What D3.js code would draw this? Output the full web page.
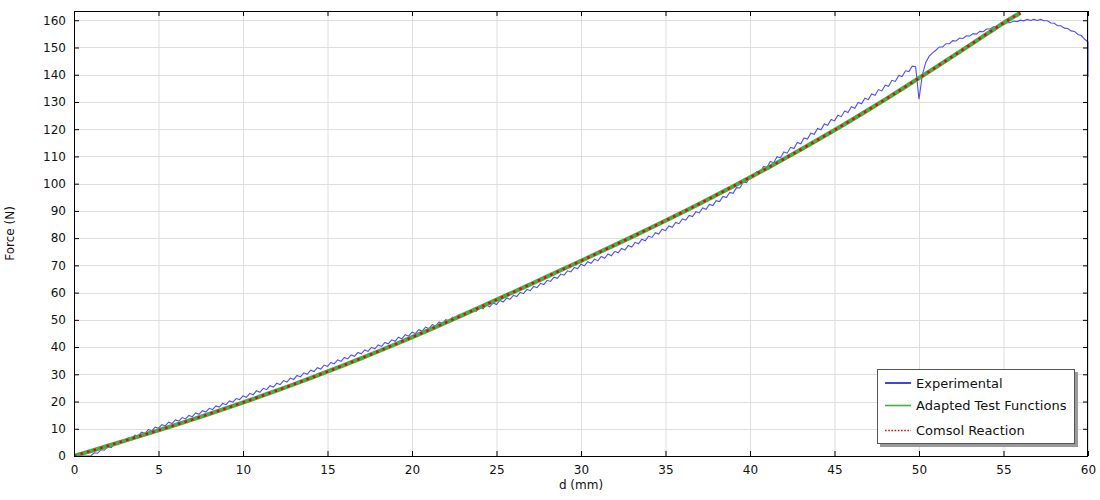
<!DOCTYPE html>
<html>
<head>
<meta charset="utf-8">
<script src="https://cdn.jsdelivr.net/npm/d3@7"></script>
<style>
html,body{margin:0;padding:0;background:#fff;}
svg{display:block;font-family:"DejaVu Sans",sans-serif;}
</style>
</head>
<body>
<svg id="chart" width="1100" height="500"></svg>
<script>
// ---- data ----
const xTicks = [0,5,10,15,20,25,30,35,40,45,50,55,60];
const yTicks = [0,10,20,30,40,50,60,70,80,90,100,110,120,130,140,150,160];
const seriesNames = ["Experimental","Adapted Test Functions","Comsol Reaction"];

const modelD = [0,1,2,3,4,5,6,7,8,9,10,11,12,13,14,15,16,17,18,19,20,21,22,23,24,25,26,27,28,29,30,31,32,33,34,35,36,37,38,39,40,41,42,43,44,45,46,47,48,49,50,51,52,53,54,55,56];
const modelF = [0,1.85,3.72,5.61,7.52,9.45,11.41,13.41,15.45,17.53,19.65,21.82,24.04,26.31,28.63,31.0,33.42,35.89,38.41,40.98,43.6,46.28,49.0,51.76,54.55,57.36,60.19,63.04,65.9,68.77,71.65,74.55,77.47,80.42,83.4,86.42,89.49,92.62,95.8,99.03,102.32,105.65,109.05,112.52,116.06,119.67,123.35,127.1,130.92,134.81,138.77,142.77,146.8,150.85,154.92,159.01,162.7];
const comsolD = modelD;
const comsolF = modelF;

const expD = [
0,0.2,0.4,0.6,0.8, 1,1.2,1.4,1.6,1.8, 2,2.2,2.4,2.6,2.8, 3,3.2,3.4,3.6,3.8, 4,4.2,4.4,4.6,4.8,
5,5.2,5.4,5.6,5.8, 6,6.2,6.4,6.6,6.8, 7,7.2,7.4,7.6,7.8, 8,8.2,8.4,8.6,8.8, 9,9.2,9.4,9.6,9.8,
10,10.2,10.4,10.6,10.8, 11,11.2,11.4,11.6,11.8, 12,12.2,12.4,12.6,12.8, 13,13.2,13.4,13.6,13.8, 14,14.2,14.4,14.6,14.8,
15,15.2,15.4,15.6,15.8, 16,16.2,16.4,16.6,16.8, 17,17.2,17.4,17.6,17.8, 18,18.2,18.4,18.6,18.8, 19,19.2,19.4,19.6,19.8,
20,20.2,20.4,20.6,20.8, 21,21.2,21.4,21.6,21.8, 22,22.2,22.4,22.6,22.8, 23,23.2,23.4,23.6,23.8, 24,24.2,24.4,24.6,24.8,
25,25.2,25.4,25.6,25.8, 26,26.2,26.4,26.6,26.8, 27,27.2,27.4,27.6,27.8, 28,28.2,28.4,28.6,28.8, 29,29.2,29.4,29.6,29.8,
30,30.2,30.4,30.6,30.8, 31,31.2,31.4,31.6,31.8, 32,32.2,32.4,32.6,32.8, 33,33.2,33.4,33.6,33.8, 34,34.2,34.4,34.6,34.8,
35,35.2,35.4,35.6,35.8, 36,36.2,36.4,36.6,36.8, 37,37.2,37.4,37.6,37.8, 38,38.2,38.4,38.6,38.8, 39,39.2,39.4,39.6,39.8,
40,40.2,40.4,40.6,40.8, 41,41.2,41.4,41.6,41.8, 42,42.2,42.4,42.6,42.8, 43,43.2,43.4,43.6,43.8, 44,44.2,44.4,44.6,44.8,
45,45.2,45.4,45.6,45.8, 46,46.2,46.4,46.6,46.8, 47,47.2,47.4,47.6,47.8, 48,48.2,48.4,48.6,48.8, 49,49.2,49.4,49.6,49.8,
50,50.2,50.4,50.6,50.8, 51,51.2,51.4,51.6,51.8, 52,52.2,52.4,52.6,52.8, 53,53.2,53.4,53.6,53.8, 54,54.2,54.4,54.6,54.8,
55,55.2,55.4,55.6,55.8, 56,56.2,56.4,56.6,56.8, 57,57.2,57.4,57.6,57.8, 58,58.2,58.4,58.6,58.8, 59,59.2,59.4,59.6,59.8,
60,60];
const expF = [
0,0,0,0,0, 0.1,1.2,1.0,2.3,2.1, 3.4,3.1,4.4,4.2,5.5, 5.15,6.6,6.25,7.65,7.3, 8.75,8.3,9.7,9.25,10.6,
10.2,11.5,11.05,12.4,11.9, 13.25,12.8,14.1,13.6,14.9, 14.45,15.8,15.3,16.65,16.15, 17.5,17.05,18.4,17.95,19.3, 18.85,20.2,19.75,21.1,20.7,
22.1,21.55,23.0,22.5,23.95, 23.4,24.85,24.35,25.8,25.3, 26.75,26.2,27.7,27.15,28.6, 28.1,29.6,29.05,30.55,30.0, 31.5,31.0,32.45,31.95,33.4,
32.9,34.35,33.8,35.3,34.75, 36.2,35.65,37.1,36.6,38.05, 37.5,38.95,38.4,39.9,39.35, 40.8,40.25,41.7,41.2,42.65, 42.1,43.6,43.05,44.55,44.0,
45.5,44.95,46.4,45.9,47.35, 46.8,48.25,47.7,49.2,48.65, 50.1,49.55,51.0,50.5,51.95, 51.4,52.85,52.3,53.7,53.15, 54.6,54.0,55.4,54.8,56.2,
55.6,57.1,56.55,58.05,57.5, 59.0,58.55,60.1,59.6,61.15, 60.7,62.25,61.8,63.4,62.95, 64.5,64.1,65.65,65.25,66.8, 66.4,68.0,67.6,69.2,68.8,
70.45,69.8,71.35,70.75,72.3, 71.65,73.25,72.6,74.2,73.55, 75.15,74.6,76.25,75.65,77.3, 76.75,78.45,77.9,79.6,79.05, 80.75,80.25,82.0,81.5,83.25,
82.75,84.5,84.0,85.75,85.3, 87.05,86.6,88.35,87.9,89.7, 89.25,91.05,90.6,92.4,91.95, 93.75,93.4,95.3,94.9,96.8, 96.45,98.55,98.4,100.5,100.35,
102.55,102.2,104.45,104.05,106.3, 105.95,108.15,107.7,109.9,109.45, 111.65,111.2,113.35,112.9,115.1, 114.65,116.8,116.35,118.55,118.1, 120.25,119.75,121.9,121.4,123.55,
123.05,125.15,124.6,126.7,126.15, 128.25,127.7,129.8,129.3,131.35, 130.85,132.95,132.45,134.55,134.05, 136.15,135.75,137.95,137.55,139.75, 139.35,141.45,141.15,143.15,142.9,
131.0,140.0,144.5,146.8,148.0, 149.0,150.2,150.2,151.4,151.4, 152.5,152.4,153.5,153.3,154.3, 154.2,155.1,154.9,155.9,155.8, 156.8,156.8,157.6,157.6,158.4,
158.4,159.2,159.1,159.7,159.5, 160.05,159.8,160.3,159.9,160.3, 159.9,160.3,159.8,159.8,159.0, 158.9,158.0,158.0,157.1,157.0, 156.1,155.9,154.8,154.4,153.1,
152.0,139.2];

// ---- layout ----
const svg = d3.select("#chart");
const L = 74, R = 1088, T = 11, B = 456;
const x = d3.scaleLinear().domain([0,60]).range([L,R]);
const y = d3.scaleLinear().domain([0,163.4]).range([B,T]);

svg.append("defs").append("clipPath").attr("id","clip")
  .append("rect").attr("x",L).attr("y",T).attr("width",R-L+1).attr("height",B-T);

// grid
const grid = svg.append("g");
grid.selectAll(".gx").data(xTicks).enter().append("line")
  .attr("x1",d=>x(d)+0.5).attr("x2",d=>x(d)+0.5).attr("y1",T).attr("y2",B)
  .attr("stroke","#dedede").attr("stroke-width",1);
grid.selectAll(".gy").data(yTicks).enter().append("line")
  .attr("y1",d=>Math.round(y(d))+0.5).attr("y2",d=>Math.round(y(d))+0.5).attr("x1",L).attr("x2",R)
  .attr("stroke","#dedede").attr("stroke-width",1);

// series
const plot = svg.append("g").attr("clip-path","url(#clip)");
const expLine = d3.line().x((d,i)=>x(expD[i])).y(d=>y(d));
plot.append("path").datum(expF).attr("d",expLine)
  .attr("fill","none").attr("stroke","#3a3aff").attr("stroke-width",1.1).attr("stroke-opacity",0.9);

const modelLine = d3.line().curve(d3.curveMonotoneX).x((d,i)=>x(modelD[i])).y(d=>y(d));
plot.append("path").datum(modelF).attr("d",modelLine)
  .attr("fill","none").attr("stroke","#3db345").attr("stroke-width",4.2);
const comsolLine = d3.line().curve(d3.curveMonotoneX).x((d,i)=>x(comsolD[i])).y(d=>y(d));
plot.append("path").datum(comsolF).attr("d",comsolLine)
  .attr("fill","none").attr("stroke","#ff0000").attr("stroke-width",2.6)
  .attr("stroke-dasharray","2.6,4.2");

// frame
svg.append("rect").attr("x",L+0.5).attr("y",T+0.5).attr("width",R-L-1).attr("height",B-T)
  .attr("fill","none").attr("stroke","#000").attr("stroke-width",1);

// axes (ticks inward)
const axB = svg.append("g").attr("transform",`translate(0,${B})`)
  .call(d3.axisBottom(x).tickValues(xTicks).tickSize(-5).tickPadding(9).tickFormat(d3.format("d")));
const axT = svg.append("g").attr("transform",`translate(0,${T})`)
  .call(d3.axisTop(x).tickValues(xTicks).tickSize(-5).tickFormat(""));
const axL = svg.append("g").attr("transform",`translate(${L},0)`)
  .call(d3.axisLeft(y).tickValues(yTicks).tickSize(-5).tickPadding(8).tickFormat(d3.format("d")));
const axR = svg.append("g").attr("transform",`translate(${R},0)`)
  .call(d3.axisRight(y).tickValues(yTicks).tickSize(-5).tickFormat(""));
[axB,axT,axL,axR].forEach(a=>{
  a.select(".domain").remove();
  a.selectAll("line").attr("stroke","#000");
  a.selectAll("text").attr("fill","#111").style("font-size","12px").style("font-family","DejaVu Sans");
});

// axis titles
svg.append("text").attr("x",(L+R)/2).attr("y",489).attr("text-anchor","middle")
  .style("font-size","12px").attr("fill","#111").text("d (mm)");
svg.append("text").attr("transform",`translate(14,${(T+B)/2}) rotate(-90)`).attr("text-anchor","middle")
  .style("font-size","12px").attr("fill","#111").text("Force (N)");

// legend
const lg = svg.append("g");
lg.append("rect").attr("x",880).attr("y",372).attr("width",198).attr("height",75).attr("fill","#9a9a9a");
lg.append("rect").attr("x",877.5).attr("y",369.5).attr("width",197).attr("height",74)
  .attr("fill","#fff").attr("stroke","#555").attr("stroke-width",1);
const items = [
  {name:seriesNames[0], color:"#1515e0", w:1.6, dash:null, yy:383},
  {name:seriesNames[1], color:"#40b040", w:1.6, dash:null, yy:405.5},
  {name:seriesNames[2], color:"#ff0000", w:1.6, dash:"1.6,1.6", yy:430.5}
];
items.forEach(it=>{
  const ln = lg.append("line").attr("x1",885).attr("x2",911).attr("y1",it.yy).attr("y2",it.yy)
    .attr("stroke",it.color).attr("stroke-width",it.w);
  if(it.dash) ln.attr("stroke-dasharray",it.dash);
  lg.append("text").attr("x",916).attr("y",it.yy+4.5).style("font-size","13px").attr("fill","#111").text(it.name);
});
</script>
</body>
</html>
